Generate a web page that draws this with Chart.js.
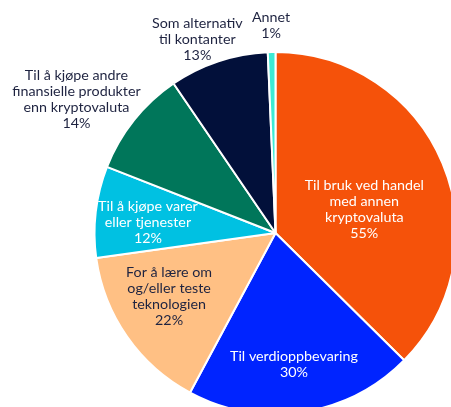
<!DOCTYPE html>
<html>
<head>
<meta charset="utf-8">
<script src="https://cdn.jsdelivr.net/npm/chart.js@4"></script>
<style>
html, body { margin: 0; padding: 0; background: #fff; overflow: hidden; }
</style>
</head>
<body>
<canvas id="pieChart" width="451" height="407"></canvas>
<script>
const categories = [
    ['Til bruk ved handel', 'med annen', 'kryptovaluta'],
    ['Til verdioppbevaring'],
    ['For å lære om', 'og/eller teste', 'teknologien'],
    ['Til å kjøpe varer', 'eller tjenester'],
    ['Til å kjøpe andre', 'finansielle produkter', 'enn kryptovaluta'],
    ['Som alternativ', 'til kontanter'],
    ['Annet']
];
const shares = [55, 30, 22, 12, 14, 13, 1];

const sliceColors = ['#f5520a', '#0024ff', '#ffc084', '#00c1e2', '#00765a', '#02103a', '#3cebd4'];
const textColors = ['#ffffff', '#ffffff', '#1e2340', '#ffffff', '#1e2340', '#1e2340', '#1e2340'];
// distance of each label from the centre (px) and a small angle nudge (deg)
const labelPlace = [[92, 7.5], [133, 0.6], [124, 4], [128, -2.2], [240, -4.6], [209, -3.6], [208, 0]];

const sliceLabels = {
    id: 'sliceLabels',
    afterDatasetsDraw(chart) {
        const ctx = chart.ctx;
        const arcs = chart.getDatasetMeta(0).data;
        ctx.save();
        ctx.font = '14.3px Lato';
        ctx.textAlign = 'center';
        ctx.textBaseline = 'middle';
        arcs.forEach((arc, i) => {
            const mid = (arc.startAngle + arc.endAngle) / 2 + labelPlace[i][1] * Math.PI / 180;
            const x = arc.x + labelPlace[i][0] * Math.cos(mid);
            const y = arc.y + labelPlace[i][0] * Math.sin(mid);
            const lines = categories[i].concat([shares[i] + '%']);
            const lh = 16;
            ctx.fillStyle = textColors[i];
            lines.forEach((t, j) => {
                ctx.fillText(t, x, y + (j - (lines.length - 1) / 2) * lh);
            });
        });
        ctx.restore();
    }
};

new Chart(document.getElementById('pieChart').getContext('2d'), {
    type: 'pie',
    data: {
        labels: categories,
        datasets: [{
            data: shares,
            backgroundColor: sliceColors,
            borderColor: '#ffffff',
            borderWidth: 2,
            hoverOffset: 0
        }]
    },
    options: {
        responsive: false,
        animation: false,
        radius: 181,
        layout: { padding: { left: 100, top: 59, right: 0, bottom: 0 } },
        plugins: { legend: { display: false }, tooltip: { enabled: false } }
    },
    plugins: [sliceLabels]
});
</script>
</body>
</html>
